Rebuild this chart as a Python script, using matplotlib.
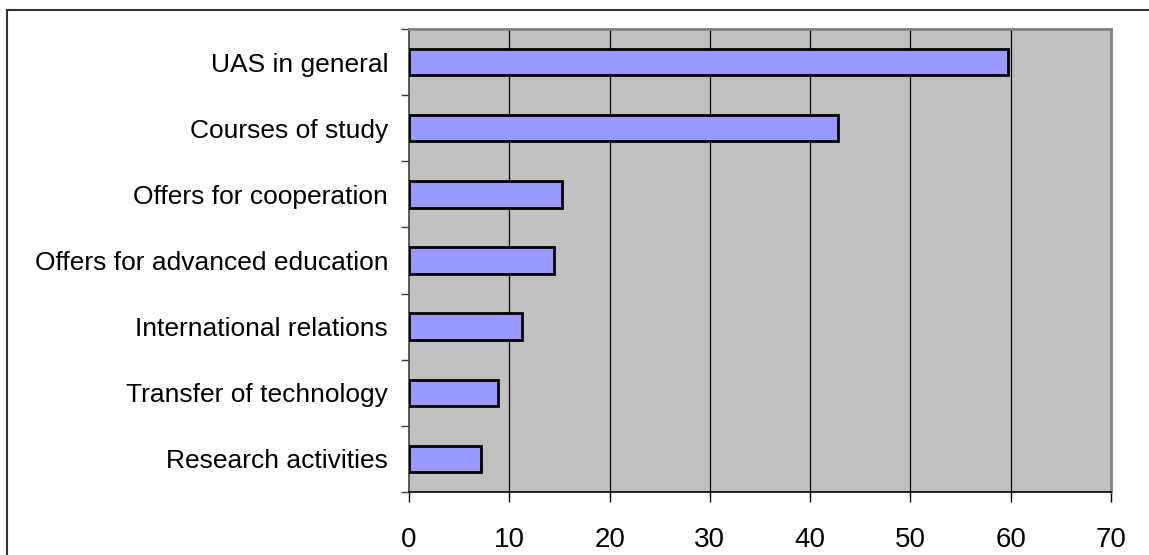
"""Horizontal bar chart of information interests."""

import matplotlib.pyplot as plt
from matplotlib.lines import Line2D
import numpy as np

categories = [
    'UAS in general',
    'Courses of study',
    'Offers for cooperation',
    'Offers for advanced education',
    'International relations',
    'Transfer of technology',
    'Research activities',
]
values = [59.7, 42.8, 15.3, 14.5, 11.3, 8.9, 7.2]
x_ticks = [0, 10, 20, 30, 40, 50, 60, 70]

plt.rcParams['font.family'] = ['Liberation Sans', 'DejaVu Sans']

fig = plt.figure(figsize=(11.49, 5.55), dpi=100)
ax = fig.add_axes([409 / 1149, 1 - 492 / 555, 702 / 1149, 463 / 555])
ax.set_facecolor('#C0C0C0')

pos = np.arange(len(categories))
ax.barh(pos, values, height=0.4, color='#9999FF', edgecolor='black',
        linewidth=2.0, zorder=3)

ax.set_xlim(0, 70)
ax.set_ylim(len(categories) - 0.5, -0.5)

# vertical gridlines
for x in x_ticks[1:-1]:
    ax.axvline(x, color='black', linewidth=0.9, zorder=1)

# category labels at centres, tick marks between categories
ax.set_yticks(pos)
ax.set_yticklabels(categories, fontsize=19)
ax.tick_params(axis='y', which='major', length=0, pad=15)
ax.set_yticks(np.arange(len(categories) + 1) - 0.5, minor=True)
ax.tick_params(axis='y', which='minor', length=6, width=1.0, color='#404040')

ax.set_xticks(x_ticks)
ax.set_xticklabels([str(t) for t in x_ticks], fontsize=20)
ax.tick_params(axis='x', length=7.5, width=1.0, color='black', pad=17.5)

for side in ['top', 'right']:
    ax.spines[side].set_color('#808080')
    ax.spines[side].set_linewidth(2.0)
ax.spines['left'].set_color('#404040')
ax.spines['left'].set_linewidth(1.2)
ax.spines['bottom'].set_color('black')
ax.spines['bottom'].set_linewidth(1.2)

# outer chart frame
fig.add_artist(Line2D([7 / 1149, 7 / 1149], [-0.05, 1 - 10 / 555],
                      transform=fig.transFigure, color='#333333', linewidth=1.5))
fig.add_artist(Line2D([7 / 1149, 1.05], [1 - 10 / 555, 1 - 10 / 555],
                      transform=fig.transFigure, color='#333333', linewidth=1.5))

fig.savefig('out.png', dpi=100)
plt.close(fig)
